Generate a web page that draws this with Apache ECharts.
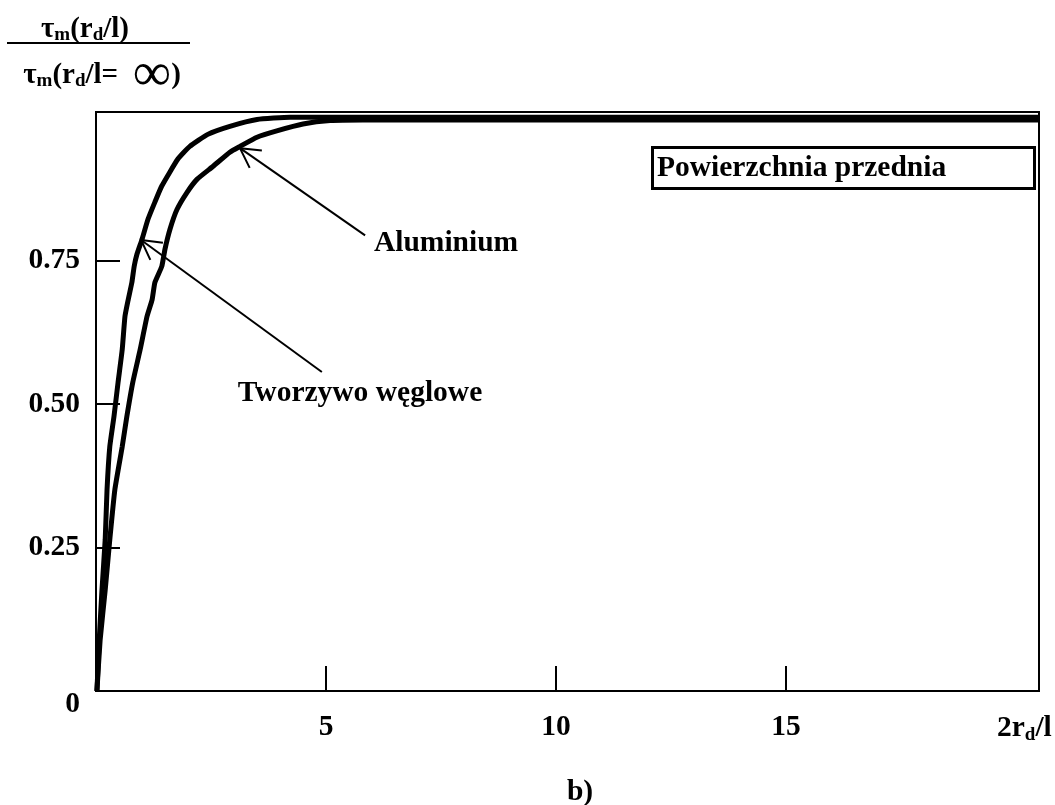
<!DOCTYPE html>
<html>
<head>
<meta charset="utf-8">
<script src="https://cdn.jsdelivr.net/npm/echarts@6/dist/echarts.min.js"></script>
<style>
  html, body { margin: 0; padding: 0; background: #ffffff; }
  #chart { width: 1055px; height: 805px; }
</style>
</head>
<body>
<div id="chart"></div>
<script>
// Normalised tau_m(r_d/l) / tau_m(r_d/l = inf) against 2r_d/l, front surface
const tworzywoWeglowe = [
  [0.02, 0.000], [0.07, 0.089], [0.13, 0.176], [0.20, 0.264], [0.24, 0.351],
  [0.30, 0.426], [0.39, 0.478], [0.48, 0.538], [0.57, 0.595], [0.63, 0.653],
  [0.70, 0.682], [0.78, 0.712], [0.83, 0.740], [0.89, 0.761], [1.00, 0.787],
  [1.13, 0.822], [1.28, 0.852], [1.43, 0.880], [1.78, 0.927], [2.04, 0.949],
  [2.43, 0.970], [2.91, 0.984], [3.50, 0.996], [4.22, 1.000], [20.5, 1.000]
];
const aluminium = [
  [0.02, 0.000], [0.09, 0.089], [0.20, 0.176], [0.30, 0.264], [0.41, 0.351],
  [0.57, 0.426], [0.67, 0.478], [0.80, 0.538], [0.96, 0.595], [1.11, 0.653],
  [1.22, 0.682], [1.28, 0.712], [1.43, 0.740], [1.50, 0.770], [1.61, 0.805],
  [1.76, 0.839], [1.98, 0.869], [2.20, 0.892], [2.54, 0.914], [2.91, 0.939],
  [3.13, 0.949], [3.50, 0.965], [3.93, 0.976], [4.50, 0.988], [5.09, 0.994],
  [5.80, 0.995], [20.5, 0.995]
];

// Axis ticks and labels
const xTickValues = [5, 10, 15];
const yTickValues = [0.25, 0.5, 0.75];
const yLabelValues = [0, 0.25, 0.5, 0.75];
const xRange = [0, 20.5];
const yRange = [0, 1.009];

// Callouts: label position, then arrow tail and arrow tip (all in data units)
const callouts = [
  { text: 'Aluminium', at: [7.61, 0.780], from: [5.85, 0.794], to: [3.13, 0.946] },
  { text: 'Tworzywo węglowe', at: [5.74, 0.519], from: [4.91, 0.556], to: [0.98, 0.786] }
];

const FONT = 'Liberation Serif';
const INK = '#000000';
const FS = 29.5;

// Straight leader with an open "V" head, drawn in pixel space from data coords
function renderArrow(params, api) {
  const tail = api.coord([api.value(0), api.value(1)]);
  const tip = api.coord([api.value(2), api.value(3)]);
  const dx = tail[0] - tip[0], dy = tail[1] - tip[1];
  const len = Math.hypot(dx, dy) || 1;
  const ux = dx / len, uy = dy / len;
  const a = 29 * Math.PI / 180, headLen = 22;
  const rot = (s) => [
    tip[0] + headLen * (ux * Math.cos(s * a) - uy * Math.sin(s * a)),
    tip[1] + headLen * (ux * Math.sin(s * a) + uy * Math.cos(s * a))
  ];
  const stroke = { stroke: INK, lineWidth: 2, fill: null };
  return {
    type: 'group',
    silent: true,
    children: [
      { type: 'line', shape: { x1: tail[0], y1: tail[1], x2: tip[0], y2: tip[1] }, style: stroke },
      { type: 'polyline', shape: { points: [rot(-1), tip, rot(1)] }, style: stroke }
    ]
  };
}

const labelStyle = { color: INK, fontFamily: FONT, fontWeight: 'bold', fontSize: FS };

const chart = echarts.init(document.getElementById('chart'), null, { renderer: 'canvas' });

chart.setOption({
  animation: false,
  backgroundColor: '#ffffff',
  title: {
    text: 'Powierzchnia przednia',
    left: 652,
    top: 147,
    padding: [4, 4, 4, 5],
    borderColor: INK,
    borderWidth: 3,
    textStyle: {
      color: INK, fontFamily: FONT, fontWeight: 'bold', fontSize: FS,
      width: 374, height: 34, lineHeight: 34
    }
  },
  grid: {
    left: 96, top: 112, right: 16, bottom: 114,
    show: true, borderColor: INK, borderWidth: 2, backgroundColor: 'transparent'
  },
  xAxis: {
    type: 'value',
    min: xRange[0],
    max: xRange[1],
    splitLine: { show: false },
    axisLine: { show: true, lineStyle: { color: INK, width: 2 } },
    axisTick: { show: true, inside: true, length: 25, lineStyle: { color: INK, width: 2 }, customValues: xTickValues },
    axisLabel: Object.assign({ margin: 21, customValues: xTickValues, formatter: v => String(v) }, labelStyle),
    name: '{n|2r}{s|d}{n|/l}',
    nameLocation: 'end',
    nameGap: -42,
    nameTextStyle: {
      align: 'left',
      verticalAlign: 'middle',
      padding: [74, 0, 0, 0],
      rich: {
        n: { color: INK, fontFamily: FONT, fontWeight: 'bold', fontSize: FS },
        s: { color: INK, fontFamily: FONT, fontWeight: 'bold', fontSize: 19, padding: [14, 0, 0, 0] }
      }
    }
  },
  yAxis: {
    type: 'value',
    min: yRange[0],
    max: yRange[1],
    splitLine: { show: false },
    axisLine: { show: true, lineStyle: { color: INK, width: 2 } },
    axisTick: { show: true, inside: true, length: 24, lineStyle: { color: INK, width: 2 }, customValues: yTickValues },
    axisLabel: Object.assign({
      margin: 16,
      customValues: yLabelValues,
      formatter: v => (v === 0 ? '{z|0}' : v.toFixed(2)),
      rich: {
        z: { color: INK, fontFamily: FONT, fontWeight: 'bold', fontSize: FS, padding: [26, 0, 0, 0] }
      }
    }, labelStyle)
  },
  graphic: [
    {
      type: 'text',
      x: 85, y: 30,
      style: {
        text: '{t|τ}{s|m}{t|(r}{s|d}{t|/l)}',
        align: 'center', verticalAlign: 'middle',
        rich: {
          t: { fill: INK, fontFamily: FONT, fontWeight: 'bold', fontSize: 29 },
          s: { fill: INK, fontFamily: FONT, fontWeight: 'bold', fontSize: 19, padding: [11, 0, 0, 0] }
        }
      }
    },
    {
      type: 'rect',
      shape: { x: 7, y: 42, width: 183, height: 2 },
      style: { fill: INK }
    },
    {
      type: 'text',
      x: 102, y: 76,
      style: {
        text: '{t|τ}{s|m}{t|(r}{s|d}{t|/l=  }{i|∞}{t|)}',
        align: 'center', verticalAlign: 'middle',
        rich: {
          t: { fill: INK, fontFamily: FONT, fontWeight: 'bold', fontSize: 29 },
          s: { fill: INK, fontFamily: FONT, fontWeight: 'bold', fontSize: 19, padding: [11, 0, 0, 0] },
          i: { fill: INK, fontFamily: FONT, fontWeight: 'normal', fontSize: 54 }
        }
      }
    },
    {
      type: 'text',
      x: 580, y: 792,
      style: {
        text: 'b)', align: 'center', verticalAlign: 'middle',
        fill: INK, fontFamily: FONT, fontWeight: 'bold', fontSize: FS
      }
    }
  ],
  series: [
    {
      name: 'Tworzywo węglowe',
      type: 'line',
      data: tworzywoWeglowe,
      symbol: 'none',
      smooth: 0.15,
      lineStyle: { color: INK, width: 5 },
      emphasis: { disabled: true }
    },
    {
      name: 'Aluminium',
      type: 'line',
      data: aluminium,
      symbol: 'none',
      smooth: 0.15,
      lineStyle: { color: INK, width: 5 },
      emphasis: { disabled: true }
    },
    {
      name: 'callouts',
      type: 'custom',
      coordinateSystem: 'cartesian2d',
      silent: true,
      encode: { x: [0, 2], y: [1, 3] },
      data: callouts.map(c => [c.from[0], c.from[1], c.to[0], c.to[1]]),
      renderItem: renderArrow,
      markPoint: {
        silent: true,
        symbol: 'rect',
        symbolSize: 1,
        itemStyle: { color: 'rgba(0,0,0,0)' },
        label: Object.assign({ show: true, position: 'inside', formatter: p => p.name }, labelStyle),
        data: callouts.map(c => ({ name: c.text, coord: c.at }))
      }
    }
  ]
});
</script>
</body>
</html>
